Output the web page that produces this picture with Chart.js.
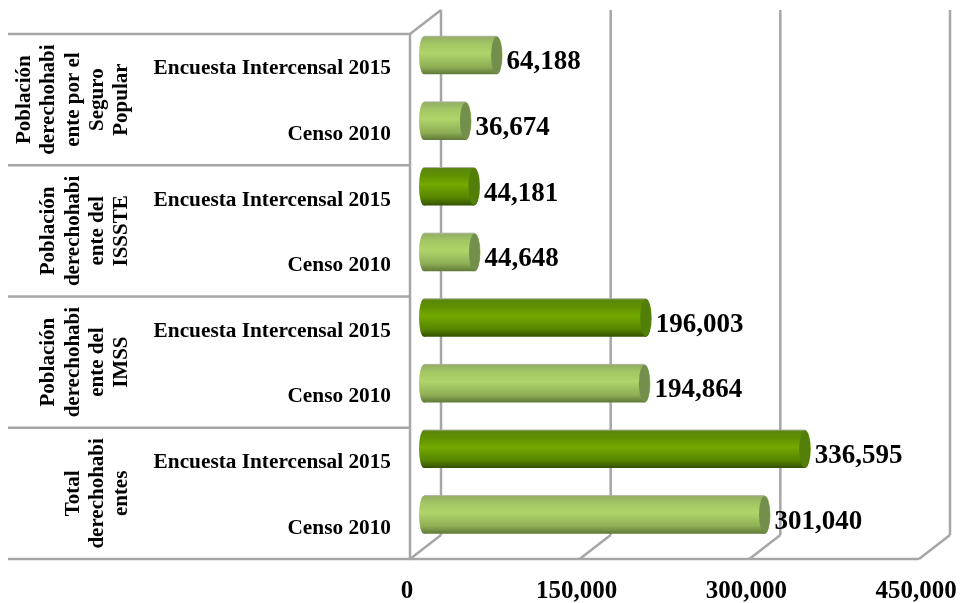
<!DOCTYPE html>
<html>
<head>
<meta charset="utf-8">
<style>html,body{margin:0;padding:0;background:#fff}canvas{display:block}</style>
<script src="https://cdn.jsdelivr.net/npm/chart.js@4"></script>
</head>
<body>
<canvas id="c" width="962" height="603"></canvas>
<script>
const categories = [
  "Encuesta Intercensal 2015","Censo 2010",
  "Encuesta Intercensal 2015","Censo 2010",
  "Encuesta Intercensal 2015","Censo 2010",
  "Encuesta Intercensal 2015","Censo 2010"
];
const groupLines = [
  ["Población","derechohabi","ente por el","Seguro","Popular"],
  ["Población","derechohabi","ente del","ISSSTE"],
  ["Población","derechohabi","ente del","IMSS"],
  ["Total","derechohabi","entes"]
];
const values = [64188,36674,44181,44648,196003,194864,336595,301040];
const tones = ["light","light","dark","light","dark","light","dark","light"];
const xTicksMax = 450000, xTicksStep = 150000;

const FONT = '"Liberation Serif","Times New Roman",serif';
const GRID = '#a6a6a6';
const LAB = 2;                      // category labels sit slightly below their band
const FX = 3;                       // x labels sit slightly left of the front plane
const DX = 14 + FX, DY = -11.5 - LAB; // bar plane offset inside the 3-D box
const BX = 31, BY = -24;            // back wall offset
const CAP = 6, LCAP = 5;

const pal = i => tones[i]==='dark'
  ? {stops:['#5a8510','#5f9000','#72aa00','#568400','#335000'], cap:'#517f0a'}
  : {stops:['#93ae63','#a4c663','#b0d46a','#8fae55','#5f7a38'], cap:'#728f4c'};

function grad(ctx, top, bottom, i){
  const g = ctx.createLinearGradient(0, top, 0, bottom);
  const s = pal(i).stops;
  g.addColorStop(0, s[0]); g.addColorStop(.2, s[1]); g.addColorStop(.45, s[2]);
  g.addColorStop(.8, s[3]); g.addColorStop(1, s[4]);
  return g;
}

const box3d = {
  id:'box3d',
  beforeDatasetsDraw(chart){
    const {ctx, scales:{x,y}} = chart;
    const band = y.getPixelForValue(1) - y.getPixelForValue(0);
    const top = y.getPixelForValue(0) - band/2 - LAB, bottom = y.getPixelForValue(7) + band/2 - LAB;
    const x0 = x.getPixelForValue(0) + FX;
    ctx.save();
    ctx.strokeStyle = GRID; ctx.lineWidth = 2.5; ctx.lineCap = 'butt';
    const line = (a,b,c,d)=>{ctx.beginPath();ctx.moveTo(a,b);ctx.lineTo(c,d);ctx.stroke();};
    for(let v=0; v<=xTicksMax; v+=xTicksStep){
      const p = x.getPixelForValue(v) + FX;
      line(p+BX, top+BY, p+BX, bottom+BY);
      line(p, bottom, p+BX, bottom+BY);
    }
    line(x0, top, x0+BX, top+BY);
    for(let k=0;k<=4;k++){
      const py = top + band*2*k;
      line(8, py, x0, py);
    }
    line(x0, top-1, x0, bottom+1);
    line(x0-1, bottom, x.getPixelForValue(xTicksMax)+FX, bottom);
    ctx.restore();
    // everything the dataset draws sits in the plane of the bars
    ctx.save();
    ctx.translate(DX, DY);
    const meta = chart.getDatasetMeta(0);
    meta.data.forEach((b,i)=>{
      const h = b.height/2;
      ctx.fillStyle = grad(ctx, b.y-h, b.y+h, i);
      ctx.beginPath();
      ctx.ellipse(b.base, b.y, LCAP, h, 0, 0, Math.PI*2);
      ctx.fill();
    });
  },
  afterDatasetsDraw(chart){
    const {ctx} = chart;
    const meta = chart.getDatasetMeta(0);
    meta.data.forEach((b,i)=>{
      const h = b.height/2;
      ctx.fillStyle = grad(ctx, b.y-h, b.y+h, i);
      ctx.beginPath();
      ctx.ellipse(b.x, b.y, CAP, h, 0, 0, Math.PI*2);
      ctx.fill();
      ctx.fillStyle = pal(i).cap;
      ctx.beginPath();
      ctx.ellipse(b.x, b.y, CAP-0.5, h-0.5, 0, 0, Math.PI*2);
      ctx.fill();
      ctx.strokeStyle = '#a9b09f';
      ctx.lineWidth = 1;
      ctx.beginPath();
      ctx.moveTo(b.base, b.y-h);
      ctx.lineTo(b.x, b.y-h);
      ctx.stroke();
    });
    ctx.restore();
    ctx.save();
    ctx.fillStyle = '#000';
    ctx.font = 'bold 27px '+FONT;
    ctx.textAlign = 'left'; ctx.textBaseline = 'middle';
    meta.data.forEach((b,i)=>{
      ctx.fillText(values[i].toLocaleString('en-US'), b.x+DX+CAP+4, b.y+DY+7);
    });
    ctx.restore();
  },
  afterDraw(chart){
    const {ctx, scales:{y}} = chart;
    const band = y.getPixelForValue(1) - y.getPixelForValue(0);
    const top = y.getPixelForValue(0) - band/2 - LAB;
    ctx.save();
    ctx.fillStyle = '#000';
    ctx.font = 'bold 21px '+FONT;
    ctx.textAlign = 'center'; ctx.textBaseline = 'middle';
    groupLines.forEach((lines,g)=>{
      const cy = top + band*2*g + band;
      lines.forEach((t,i)=>{
        const lx = 121 - 24.4*(lines.length-1-i);
        ctx.save();
        ctx.translate(lx, cy);
        ctx.rotate(-Math.PI/2);
        ctx.fillText(t, 0, 1);
        ctx.restore();
      });
    });
    ctx.restore();
  }
};

new Chart(document.getElementById('c').getContext('2d'), {
  type:'bar',
  data:{
    labels:categories,
    datasets:[{
      data:values,
      barPercentage:0.58,
      categoryPercentage:1,
      borderWidth:0,
      clip:false,
      backgroundColor(c){
        const b = c.chart.scales && c.chart.scales.y;
        if(!b || c.dataIndex===undefined) return '#b0d46a';
        const cy = b.getPixelForValue(c.dataIndex);
        if(!Number.isFinite(cy)) return '#b0d46a';
        return grad(c.chart.ctx, cy-19, cy+19, c.dataIndex);
      }
    }]
  },
  options:{
    indexAxis:'y',
    responsive:false,
    animation:false,
    layout:{padding:{top:36,right:46,bottom:0,left:0}},
    plugins:{legend:{display:false},tooltip:{enabled:false},title:{display:false}},
    scales:{
      x:{
        type:'linear',min:0,max:xTicksMax,
        grid:{display:false},border:{display:false},
        afterFit(s){s.height=42;s.paddingLeft=0;s.paddingRight=0;},
        ticks:{
          stepSize:xTicksStep,maxRotation:0,padding:8,color:'#000',
          font:{family:FONT,size:25,weight:'bold'},
          callback:v=>Number(v).toLocaleString('en-US')
        }
      },
      y:{
        type:'category',
        grid:{display:false},border:{display:false},
        afterFit(s){s.width=407;},
        ticks:{
          padding:8,color:'#000',autoSkip:false,
          font:{family:FONT,size:21.3,weight:'bold'}
        }
      }
    }
  },
  plugins:[box3d]
});
</script>
</body>
</html>
